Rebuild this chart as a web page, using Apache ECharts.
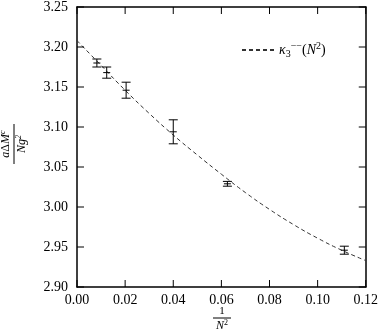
<!DOCTYPE html>
<html>
<head>
<meta charset="utf-8">
<script src="https://cdn.jsdelivr.net/npm/echarts@6/dist/echarts.min.js"></script>
<style>
html, body { margin: 0; padding: 0; background: #fff; }
#main { width: 381px; height: 332px; }
</style>
</head>
<body>
<div id="main"></div>
<script>
// 1/N^2 for N = 11, 9, 7, 5, 4, 3
var invN2 = [0.00826, 0.01235, 0.02041, 0.04, 0.0625, 0.1111];
var massVal = [3.180, 3.168, 3.146, 3.094, 3.029, 2.946];
var massErr = [0.005, 0.007, 0.010, 0.015, 0.003, 0.005];

// fit curve
var fitX = [0, 0.01, 0.02, 0.03, 0.04, 0.05, 0.06, 0.07, 0.08, 0.09, 0.10, 0.11, 0.12];
var fitY = [3.208, 3.177, 3.146, 3.117, 3.090, 3.065, 3.041, 3.018, 2.997, 2.978, 2.961, 2.946, 2.933];

var xTicks = ['0.00', '0.02', '0.04', '0.06', '0.08', '0.10', '0.12'];
var yTicks = ['2.90', '2.95', '3.00', '3.05', '3.10', '3.15', '3.20', '3.25'];

var xMin = parseFloat(xTicks[0]), xMax = parseFloat(xTicks[xTicks.length - 1]);
var yMin = parseFloat(yTicks[0]), yMax = parseFloat(yTicks[yTicks.length - 1]);

var serif = "'Liberation Serif', serif";
var myChart = echarts.init(document.getElementById('main'));

var errData = invN2.map(function (x, i) { return [x, massVal[i], massErr[i]]; });
var fitData = fitX.map(function (x, i) { return [x, fitY[i]]; });

function seg(x1, y1, x2, y2) {
    return {
        type: 'line',
        shape: { x1: x1, y1: y1, x2: x2, y2: y2 },
        style: { stroke: '#000', lineWidth: 1 }
    };
}

// inward ticks on all four sides of the frame, placed with api.coord
var tickLen = 7;
function frameTicks(api) {
    var out = [];
    xTicks.forEach(function (t) {
        var v = parseFloat(t);
        var b = api.coord([v, yMin]);
        var u = api.coord([v, yMax]);
        out.push(seg(b[0], b[1], b[0], b[1] - tickLen));
        out.push(seg(u[0], u[1], u[0], u[1] + tickLen));
    });
    yTicks.forEach(function (t) {
        var v = parseFloat(t);
        var l = api.coord([xMin, v]);
        var r = api.coord([xMax, v]);
        out.push(seg(l[0], l[1], l[0] + tickLen, l[1]));
        out.push(seg(r[0], r[1], r[0] - tickLen, r[1]));
    });
    return out;
}

function renderErr(params, api) {
    var x = api.value(0), y = api.value(1), e = api.value(2);
    var hi = api.coord([x, y + e]);
    var lo = api.coord([x, y - e]);
    var mid = api.coord([x, y]);
    var w = 4.5;
    var children = [
        seg(hi[0], hi[1], lo[0], lo[1]),
        seg(hi[0] - w, hi[1], hi[0] + w, hi[1]),
        seg(lo[0] - w, lo[1], lo[0] + w, lo[1]),
        seg(mid[0] - 3.5, mid[1], mid[0] + 3.5, mid[1])
    ];
    if (params.dataIndex === 0) {
        children = children.concat(frameTicks(api));
    }
    return { type: 'group', children: children };
}

function axisLine() {
    return { show: true, onZero: false, lineStyle: { color: '#000', width: 1.5 } };
}

function fracText(text, y, vAlign) {
    return {
        type: 'text', x: 20, y: y,
        style: {
            text: text, fill: '#000', align: 'center', verticalAlign: vAlign,
            rich: {
                i: { fontFamily: serif, fontStyle: 'italic', fontSize: 12, color: '#000' },
                r: { fontFamily: serif, fontSize: 12, color: '#000' },
                p: { fontFamily: serif, fontStyle: 'italic', fontSize: 8, color: '#000', padding: [0, 0, 6, 0] }
            }
        }
    };
}

option = {
    backgroundColor: '#fff',
    animation: false,
    grid: { left: 77, right: 13, top: 5, bottom: 45 },
    legend: {
        left: 236,
        top: 36,
        itemWidth: 32,
        itemHeight: 14,
        data: ['fit'],
        itemStyle: { opacity: 0 },
        formatter: function () {
            return '{k|κ}{s|3}{p|−−}{t|(}{k|N}{p|2}{t|)}';
        },
        textStyle: {
            fontFamily: serif,
            fontSize: 14,
            color: '#000',
            rich: {
                k: { fontFamily: serif, fontStyle: 'italic', fontSize: 14, color: '#000' },
                t: { fontFamily: serif, fontSize: 14, color: '#000' },
                s: { fontFamily: serif, fontSize: 10, color: '#000', padding: [8, 0, 0, 0] },
                p: { fontFamily: serif, fontSize: 10, color: '#000', padding: [0, 0, 8, 0] }
            }
        }
    },
    xAxis: [{
        type: 'value',
        min: xMin, max: xMax, interval: 0.02,
        axisLine: axisLine(),
        axisTick: { show: false },
        splitLine: { show: false },
        axisLabel: {
            margin: 6,
            fontFamily: serif, fontSize: 14, color: '#000',
            formatter: function (v) { return xTicks[Math.round(v / 0.02)]; }
        }
    }, {
        type: 'value', position: 'top',
        min: xMin, max: xMax, interval: 0.02,
        axisLine: axisLine(), axisTick: { show: false },
        axisLabel: { show: false }, splitLine: { show: false }
    }],
    yAxis: [{
        type: 'value',
        min: yMin, max: yMax, interval: 0.05,
        axisLine: axisLine(),
        axisTick: { show: false },
        splitLine: { show: false },
        axisLabel: {
            margin: 9,
            fontFamily: serif, fontSize: 14, color: '#000',
            formatter: function (v) { return v.toFixed(2); }
        }
    }, {
        type: 'value', position: 'right',
        min: yMin, max: yMax, interval: 0.05,
        axisLine: axisLine(), axisTick: { show: false },
        axisLabel: { show: false }, splitLine: { show: false }
    }],
    graphic: [{
        type: 'group',
        x: 213, y: 318,
        children: [
            { type: 'text', x: 9, y: -1, style: { text: '1', fontFamily: serif, fontSize: 11, fill: '#000', align: 'center', verticalAlign: 'bottom' } },
            { type: 'line', shape: { x1: 0, y1: 0, x2: 18, y2: 0 }, style: { stroke: '#000', lineWidth: 1 } },
            { type: 'text', x: 9, y: 1, style: { text: '{i|N}{p|2}', fill: '#000', align: 'center', verticalAlign: 'top', rich: {
                i: { fontFamily: serif, fontStyle: 'italic', fontSize: 12, color: '#000' },
                p: { fontFamily: serif, fontSize: 8, color: '#000', padding: [0, 0, 6, 0] } } } }
        ]
    }, {
        type: 'group',
        x: 14, y: 164,
        rotation: Math.PI / 2,
        children: [
            fracText('{i|a}{r|Δ}{i|M}{p|c}', -1, 'bottom'),
            { type: 'line', shape: { x1: 0, y1: 0, x2: 40, y2: 0 }, style: { stroke: '#000', lineWidth: 1 } },
            fracText('{i|Ng}{p|2}', 1, 'top')
        ]
    }],
    series: [{
        name: 'fit',
        type: 'line',
        data: fitData,
        smooth: true,
        showSymbol: false,
        symbol: 'none',
        itemStyle: { color: '#333' },
        lineStyle: { color: '#333', width: 1, type: [4, 3] },
        z: 2
    }, {
        name: 'data',
        type: 'custom',
        data: errData,
        renderItem: renderErr,
        z: 3
    }]
};
myChart.setOption(option);
</script>
</body>
</html>
